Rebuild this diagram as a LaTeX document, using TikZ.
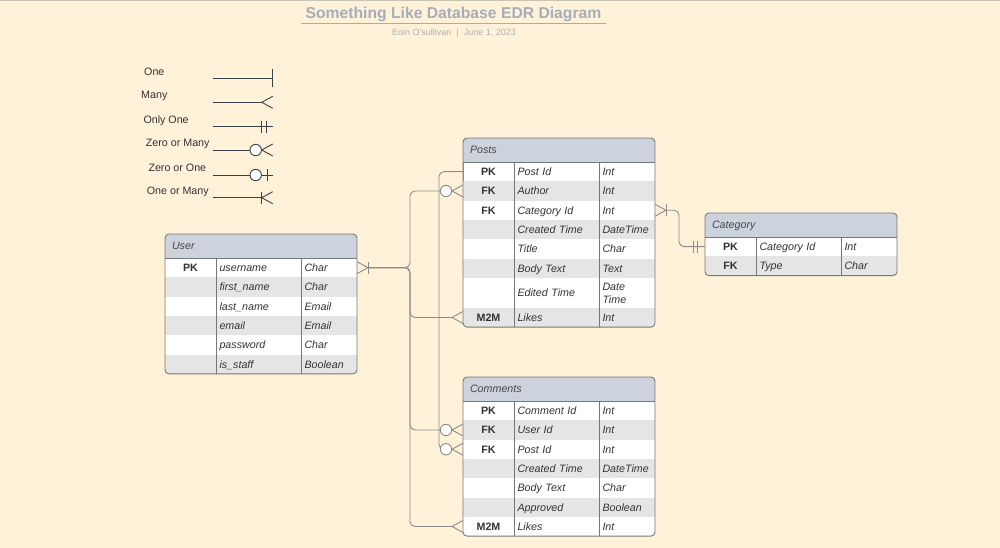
\documentclass[tikz,border=0pt]{standalone}
\usepackage{fontspec}
\setmainfont{Liberation Sans}
\usepackage{xcolor}
\usetikzlibrary{positioning}

\definecolor{paper}{HTML}{FFF2D9}
\definecolor{headfill}{HTML}{CDD3DC}
\definecolor{rowgray}{HTML}{E5E5E5}
\definecolor{bordergray}{HTML}{777777}
\definecolor{conngray}{HTML}{8C8C8C}
\definecolor{legendink}{HTML}{3A404C}
\definecolor{inkgray}{HTML}{333333}
\definecolor{titlegray}{HTML}{A5ADBA}
\definecolor{subgray}{HTML}{B0B0B0}
\definecolor{topgray}{HTML}{CBC3B3}

\newcommand{\erfont}{\fontsize{10.7}{13}\selectfont}

\tikzset{
 cell/.style={inner sep=0pt, outer sep=0pt, text height=7.7pt, text depth=0pt,
   anchor=north west, text=inkgray, font=\erfont},
 keycell/.style={cell, text width=51pt, align=center, font=\erfont\bfseries},
 namecell/.style={cell, inner xsep=3.5pt, text width=78pt, align=left, font=\erfont\itshape},
 typecell/.style={cell, inner xsep=3.5pt, text width=49pt, align=left, font=\erfont\itshape},
 headcell/.style={cell, fill=headfill, minimum height=24pt, inner xsep=7pt, text width=178pt,
   align=left, text=inkgray!90, font=\erfont\itshape},
 tablerule/.style={draw=bordergray, line width=0.9pt},
 conn/.style={draw=conngray, line width=0.9pt, rounded corners=5pt},
 endmark/.style={color=conngray, line width=0.9pt},
 legendmark/.style={color=legendink, line width=0.9pt},
 legendline/.style={draw=legendink, line width=0.9pt},
 legendlabel/.style={anchor=west, inner sep=0pt, text height=7.7pt, text depth=0pt,
   text=inkgray, font=\erfont},
 titletext/.style={anchor=base, inner xsep=4pt, inner ysep=1.7pt, text=titlegray,
   font=\fontsize{15.7}{19}\selectfont\bfseries},
 titlerule/.style={draw=titlegray, line width=1.5pt},
 subtext/.style={anchor=base, inner sep=0pt, text=subgray, font=\fontsize{9}{11}\selectfont},
 pics/crow/.style={code={\draw (0,-6) -- (11,0) -- (0,6);}},
 pics/bar/.style={code={\draw (#1,-6) -- (#1,6);}},
 pics/tallbar/.style={code={\draw (0,-9) -- (0,9);}},
 pics/ring/.style={code={\draw[fill=white] (17,0) circle[radius=5.7pt];}},
}

\begin{document}
\begin{tikzpicture}[x=1pt, y=-1pt]
  \useasboundingbox (0,0) rectangle (1000,548);
  \fill[paper] (0,0) rectangle (1000,548);
  \draw[topgray, line width=1.5pt] (0,0.75) -- (1000,0.75);

  % title
  \node[titletext] (title) at (453.5,18.3) {Something Like Database EDR Diagram};
  \draw[titlerule] (title.south west) -- (title.south east);
  \node[subtext] (subtitle) at (454,35.3) {Eoin O'sullivan \ | \ June 1, 2023};

  % legend
  \foreach \lbl/\lx/\ly/\y/\s [count=\i] in {One/144/71.7/78.3/0, Many/141/95/102.3/11,
      Only One/143.3/119.3/126.7/0, Zero or Many/145.7/142.7/150/12,
      Zero or One/148.3/167.7/175/0, One or Many/146.7/190.7/197.7/11} {
    \node[legendlabel] (legend-\i) at (\lx,\ly) {\lbl};
    \coordinate (legend-a\i) at (213.3,\y);
    \coordinate (legend-b\i) at (272.7,\y);
    \draw[legendline, shorten >=\s pt] (legend-a\i) -- (legend-b\i);
  }
  \pic[legendmark, rotate=180] at (legend-b1) {tallbar};
  \pic[legendmark, rotate=180] at (legend-b2) {crow};
  \pic[legendmark, rotate=180] at (legend-b3) {bar=6};
  \pic[legendmark, rotate=180] at (legend-b3) {bar=11};
  \pic[legendmark, rotate=180] at (legend-b4) {crow};
  \pic[legendmark, rotate=180] at (legend-b4) {ring};
  \pic[legendmark, rotate=180] at (legend-b5) {bar=5.5};
  \pic[legendmark, rotate=180] at (legend-b5) {ring};
  \pic[legendmark, rotate=180] at (legend-b6) {crow};
  \pic[legendmark, rotate=180] at (legend-b6) {bar=11};

  % Posts
  \begin{scope}
    \clip[rounded corners=4pt] (463,138) rectangle (655,327.1);
    \node[headcell, alias=posts-k0] (posts-h) at (463,138) {Posts};
    \foreach \k/\n/\t/\f/\h [count=\i] in {PK/Post Id/Int/white/19.3, FK/Author/Int/rowgray/19.3,
        FK/Category Id/Int/white/19.3, {}/Created Time/DateTime/rowgray/19.3,
        {}/Title/Char/white/19.3, {}/Body Text/Text/rowgray/19.3,
        {}/Edited Time/\begin{tabular}[c]{@{}l@{}}Date\\Time\end{tabular}/white/30,
        M2M/Likes/Int/rowgray/19.3} {
      \pgfmathtruncatemacro\j{\i-1}
      \node[keycell, fill=\f, minimum height=\h] (posts-k\i) at (posts-k\j.south west) {\k};
      \node[namecell, fill=\f, minimum height=\h, right=0pt of posts-k\i] (posts-n\i) {\n};
      \node[typecell, fill=\f, minimum height=\h, right=0pt of posts-n\i] (posts-t\i) {\t};
    }
  \end{scope}
  \draw[tablerule, rounded corners=4pt] (posts-h.north west) rectangle (posts-t8.south east);
  \draw[tablerule] (posts-h.south west) -- (posts-h.south east);
  \draw[tablerule] (posts-n1.north west) -- (posts-n8.south west);
  \draw[tablerule] (posts-t1.north west) -- (posts-t8.south west);

  % User
  \begin{scope}
    \clip[rounded corners=4pt] (165,234) rectangle (357,373.8);
    \node[headcell, alias=user-k0] (user-h) at (165,234) {User};
    \foreach \k/\n/\t/\f/\h [count=\i] in {PK/username/Char/white/19.3,
        {}/first\_name/Char/rowgray/19.3, {}/last\_name/Email/white/19.3,
        {}/email/Email/rowgray/19.3, {}/password/Char/white/19.3,
        {}/is\_staff/Boolean/rowgray/19.3} {
      \pgfmathtruncatemacro\j{\i-1}
      \node[keycell, fill=\f, minimum height=\h] (user-k\i) at (user-k\j.south west) {\k};
      \node[namecell, fill=\f, minimum height=\h, right=0pt of user-k\i] (user-n\i) {\n};
      \node[typecell, fill=\f, minimum height=\h, right=0pt of user-n\i] (user-t\i) {\t};
    }
  \end{scope}
  \draw[tablerule, rounded corners=4pt] (user-h.north west) rectangle (user-t6.south east);
  \draw[tablerule] (user-h.south west) -- (user-h.south east);
  \draw[tablerule] (user-n1.north west) -- (user-n6.south west);
  \draw[tablerule] (user-t1.north west) -- (user-t6.south west);

  % Category
  \begin{scope}
    \clip[rounded corners=4pt] (705,213) rectangle (897,275.6);
    \node[headcell, alias=category-k0] (category-h) at (705,213) {Category};
    \foreach \k/\n/\t/\f/\h [count=\i] in {PK/Category Id/Int/white/19.3,
        FK/Type/Char/rowgray/19.3} {
      \pgfmathtruncatemacro\j{\i-1}
      \node[keycell, fill=\f, minimum height=\h] (category-k\i) at (category-k\j.south west) {\k};
      \node[namecell, fill=\f, minimum height=\h, right=0pt of category-k\i] (category-n\i) {\n};
      \node[typecell, fill=\f, minimum height=\h, right=0pt of category-n\i] (category-t\i) {\t};
    }
  \end{scope}
  \draw[tablerule, rounded corners=4pt] (category-h.north west) rectangle (category-t2.south east);
  \draw[tablerule] (category-h.south west) -- (category-h.south east);
  \draw[tablerule] (category-n1.north west) -- (category-n2.south west);
  \draw[tablerule] (category-t1.north west) -- (category-t2.south west);

  % Comments
  \begin{scope}
    \clip[rounded corners=4pt] (463,377) rectangle (655,536.1);
    \node[headcell, alias=comments-k0] (comments-h) at (463,377) {Comments};
    \foreach \k/\n/\t/\f/\h [count=\i] in {PK/Comment Id/Int/white/19.3,
        FK/User Id/Int/rowgray/19.3, FK/Post Id/Int/white/19.3,
        {}/Created Time/DateTime/rowgray/19.3, {}/Body Text/Char/white/19.3,
        {}/Approved/Boolean/rowgray/19.3, M2M/Likes/Int/white/19.3} {
      \pgfmathtruncatemacro\j{\i-1}
      \node[keycell, fill=\f, minimum height=\h] (comments-k\i) at (comments-k\j.south west) {\k};
      \node[namecell, fill=\f, minimum height=\h, right=0pt of comments-k\i] (comments-n\i) {\n};
      \node[typecell, fill=\f, minimum height=\h, right=0pt of comments-n\i] (comments-t\i) {\t};
    }
  \end{scope}
  \draw[tablerule, rounded corners=4pt] (comments-h.north west) rectangle (comments-t7.south east);
  \draw[tablerule] (comments-h.south west) -- (comments-h.south east);
  \draw[tablerule] (comments-n1.north west) -- (comments-n7.south west);
  \draw[tablerule] (comments-t1.north west) -- (comments-t7.south west);

  % relations
  \coordinate (userbus) at (410,267);
  \coordinate (postbus) at (439,171);
  \coordinate (catbus) at (679,210);
  \draw[conn, shorten <=11pt, shorten >=12pt] (user-t1.east) -- (user-t1.east -| userbus)
    -- (userbus |- posts-k2.west) -- (posts-k2.west);
  \draw[conn, shorten <=11pt, shorten >=11pt] (user-t1.east) -- (user-t1.east -| userbus)
    -- (userbus |- posts-k8.west) -- (posts-k8.west);
  \draw[conn, shorten <=11pt, shorten >=12pt] (user-t1.east) -- (user-t1.east -| userbus)
    -- (userbus |- comments-k2.west) -- (comments-k2.west);
  \draw[conn, shorten <=11pt, shorten >=11pt] (user-t1.east) -- (user-t1.east -| userbus)
    -- (userbus |- comments-k7.west) -- (comments-k7.west);
  \draw[conn, shorten >=12pt] (posts-k1.west) -- (posts-k1.west -| postbus)
    -- (postbus |- comments-k3.west) -- (comments-k3.west);
  \draw[conn, shorten <=11pt] (posts-t3.east) -- (posts-t3.east -| catbus)
    -- (catbus |- category-k1.west) -- (category-k1.west);

  \pic[endmark] at (user-t1.east) {crow};
  \pic[endmark] at (user-t1.east) {bar=11};
  \pic[endmark, rotate=180] at (posts-k1.west) {tallbar};
  \pic[endmark, rotate=180] at (posts-k2.west) {crow};
  \pic[endmark, rotate=180] at (posts-k2.west) {ring};
  \pic[endmark, rotate=180] at (posts-k8.west) {crow};
  \pic[endmark, rotate=180] at (comments-k2.west) {crow};
  \pic[endmark, rotate=180] at (comments-k2.west) {ring};
  \pic[endmark, rotate=180] at (comments-k3.west) {crow};
  \pic[endmark, rotate=180] at (comments-k3.west) {ring};
  \pic[endmark, rotate=180] at (comments-k7.west) {crow};
  \pic[endmark] at (posts-t3.east) {crow};
  \pic[endmark] at (posts-t3.east) {bar=11};
  \pic[endmark, rotate=180] at (category-k1.west) {bar=8};
  \pic[endmark, rotate=180] at (category-k1.west) {bar=12};
\end{tikzpicture}
\end{document}
